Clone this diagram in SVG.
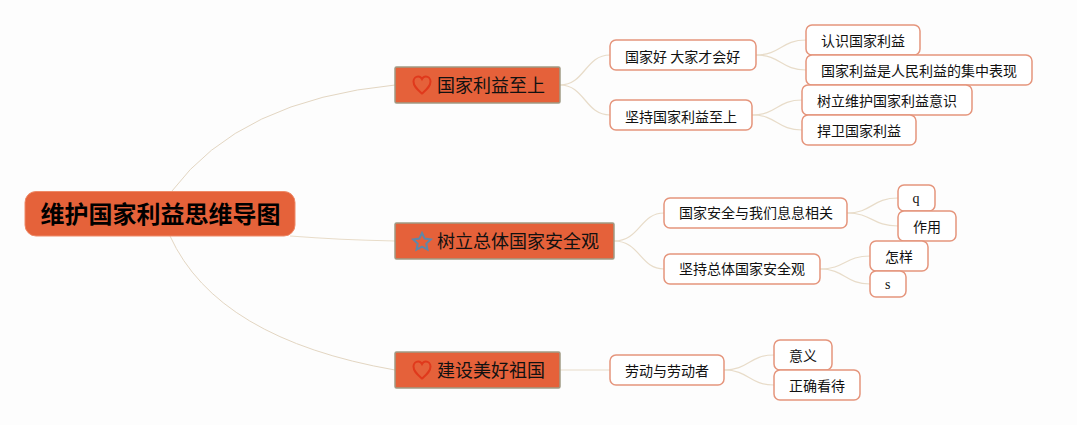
<svg xmlns="http://www.w3.org/2000/svg" width="1077" height="425" viewBox="0 0 1077 425">
<style>
text{font-family:"Noto Sans CJK SC","Liberation Sans",sans-serif;fill:#111}
.c{fill:none;stroke:#e8dcc9;stroke-width:1.2}
.a{fill:none;stroke:#e3d6c2;stroke-width:1}
.root{fill:#e5623a;stroke:#ee8a68;stroke-width:1}
.rt{font-size:24px;font-weight:700;fill:#000}
.m{fill:#e5613a;stroke:#a09a84;stroke-width:1.5}
.mt{font-size:18px}
.n{fill:#fff;stroke:#e5957c;stroke-width:1.5}
.t{font-size:14px}
.l{font-family:"Liberation Serif",serif;font-size:14px}
.ic{fill:none;stroke-width:2}
</style>
<rect width="1077" height="425" fill="#fdfdfd"/>
<g id="connectors">
<path class="a" d="M172 191Q240 100 395 85"/>
<path class="c" d="M290 236Q340 240 395 241"/>
<path class="a" d="M170 236Q217 339 395 370"/>
<path class="c" d="M560 85C585 85 585 55 610 55"/>
<path class="c" d="M560 85C585 85 585 115 610 115"/>
<path class="c" d="M614 241C640 241 640 213 664 213"/>
<path class="c" d="M614 241C640 241 640 269 664 269"/>
<path class="c" d="M560 370L610 370"/>
<path class="c" d="M756 55C781 55 781 40 806 40"/>
<path class="c" d="M756 55C781 55 781 70 806 70"/>
<path class="c" d="M752 115C777 115 777 100 802 100"/>
<path class="c" d="M752 115C777 115 777 130 802 130"/>
<path class="c" d="M847 213C872 213 872 198 898 198"/>
<path class="c" d="M847 213C872 213 872 226 898 226"/>
<path class="c" d="M820 269C845 269 845 256 870 256"/>
<path class="c" d="M820 269C845 269 845 284 870 284"/>
<path class="c" d="M724 370C749 370 749 355 774 355"/>
<path class="c" d="M724 370C749 370 749 385 774 385"/>
</g>
<g id="root"><rect class="root" x="25" y="191.5" width="270" height="44.5" rx="11"/><text class="rt" x="40.500" y="223">维护国家利益思维导图</text></g>
<g id="n1"><rect class="m" x="395" y="67" width="165" height="36" rx="1.5"/><path class="ic" stroke="#e0391c" d="M422 93.500C417.500 89.500 413.500 86.500 413.500 81.500C413.500 78.500 415.700 76.500 418.200 76.500C420 76.500 421.200 77.500 422 79C422.800 77.500 424 76.500 425.800 76.500C428.300 76.500 430.500 78.500 430.500 81.500C430.500 86.500 426.500 89.500 422 93.500Z"/><text class="mt" x="437" y="91.800">国家利益至上</text></g>
<g id="n2"><rect class="m" x="395" y="223" width="219" height="36" rx="1.5"/><path class="ic" stroke="#5f87a8" stroke-width="2.500" d="M422 233L424.700 238.600L430.800 239.400L426.300 243.600L427.500 249.700L422 246.700L416.500 249.700L417.700 243.600L413.200 239.400L419.300 238.600Z"/><text class="mt" x="437" y="247.800">树立总体国家安全观</text></g>
<g id="n3"><rect class="m" x="395" y="352" width="165" height="36" rx="1.500"/><path class="ic" stroke="#e0391c" d="M422 378.500C417.500 374.500 413.500 371.500 413.500 366.500C413.500 363.500 415.700 361.500 418.200 361.500C420 361.500 421.200 362.500 422 364C422.800 362.500 424 361.500 425.800 361.500C428.300 361.500 430.500 363.500 430.500 366.500C430.500 371.500 426.500 374.500 422 378.500Z"/><text class="mt" x="437" y="376.800">建设美好祖国</text></g>
<g id="n11"><rect class="n" x="610" y="40" width="146" height="30" rx="6"/><text class="t" x="625" y="61.500">国家好 大家才会好</text></g>
<g id="n12"><rect class="n" x="610" y="100" width="142" height="30" rx="6"/><text class="t" x="625" y="121.500">坚持国家利益至上</text></g>
<g id="n21"><rect class="n" x="664" y="198" width="183" height="30" rx="6"/><text class="t" x="679" y="218">国家安全与我们息息相关</text></g>
<g id="n22"><rect class="n" x="664" y="254" width="156" height="30" rx="6"/><text class="t" x="679" y="274">坚持总体国家安全观</text></g>
<g id="n31"><rect class="n" x="610" y="355" width="114" height="30" rx="6"/><text class="t" x="625" y="375.500">劳动与劳动者</text></g>
<g id="n111"><rect class="n" x="806" y="25" width="114" height="30" rx="6"/><text class="t" x="821" y="46">认识国家利益</text></g>
<g id="n112"><rect class="n" x="806" y="55" width="226" height="30" rx="6"/><text class="t" x="821" y="76">国家利益是人民利益的集中表现</text></g>
<g id="n121"><rect class="n" x="802" y="85" width="170" height="30" rx="6"/><text class="t" x="817" y="106">树立维护国家利益意识</text></g>
<g id="n122"><rect class="n" x="802" y="115" width="114" height="30" rx="6"/><text class="t" x="817" y="136">捍卫国家利益</text></g>
<g id="n211"><rect class="n" x="898" y="185" width="37" height="26" rx="6"/><text class="l" x="912.500" y="203">q</text></g>
<g id="n212"><rect class="n" x="898" y="211" width="58" height="30" rx="6"/><text class="t" x="913" y="232">作用</text></g>
<g id="n221"><rect class="n" x="870" y="241" width="58" height="30" rx="6"/><text class="t" x="885" y="262">怎样</text></g>
<g id="n222"><rect class="n" x="870" y="271" width="36" height="26" rx="6"/><text class="l" x="885" y="289">s</text></g>
<g id="n311"><rect class="n" x="774" y="340" width="58" height="30" rx="6"/><text class="t" x="789" y="361">意义</text></g>
<g id="n312"><rect class="n" x="774" y="370" width="86" height="30" rx="6"/><text class="t" x="789" y="391">正确看待</text></g>
</svg>
